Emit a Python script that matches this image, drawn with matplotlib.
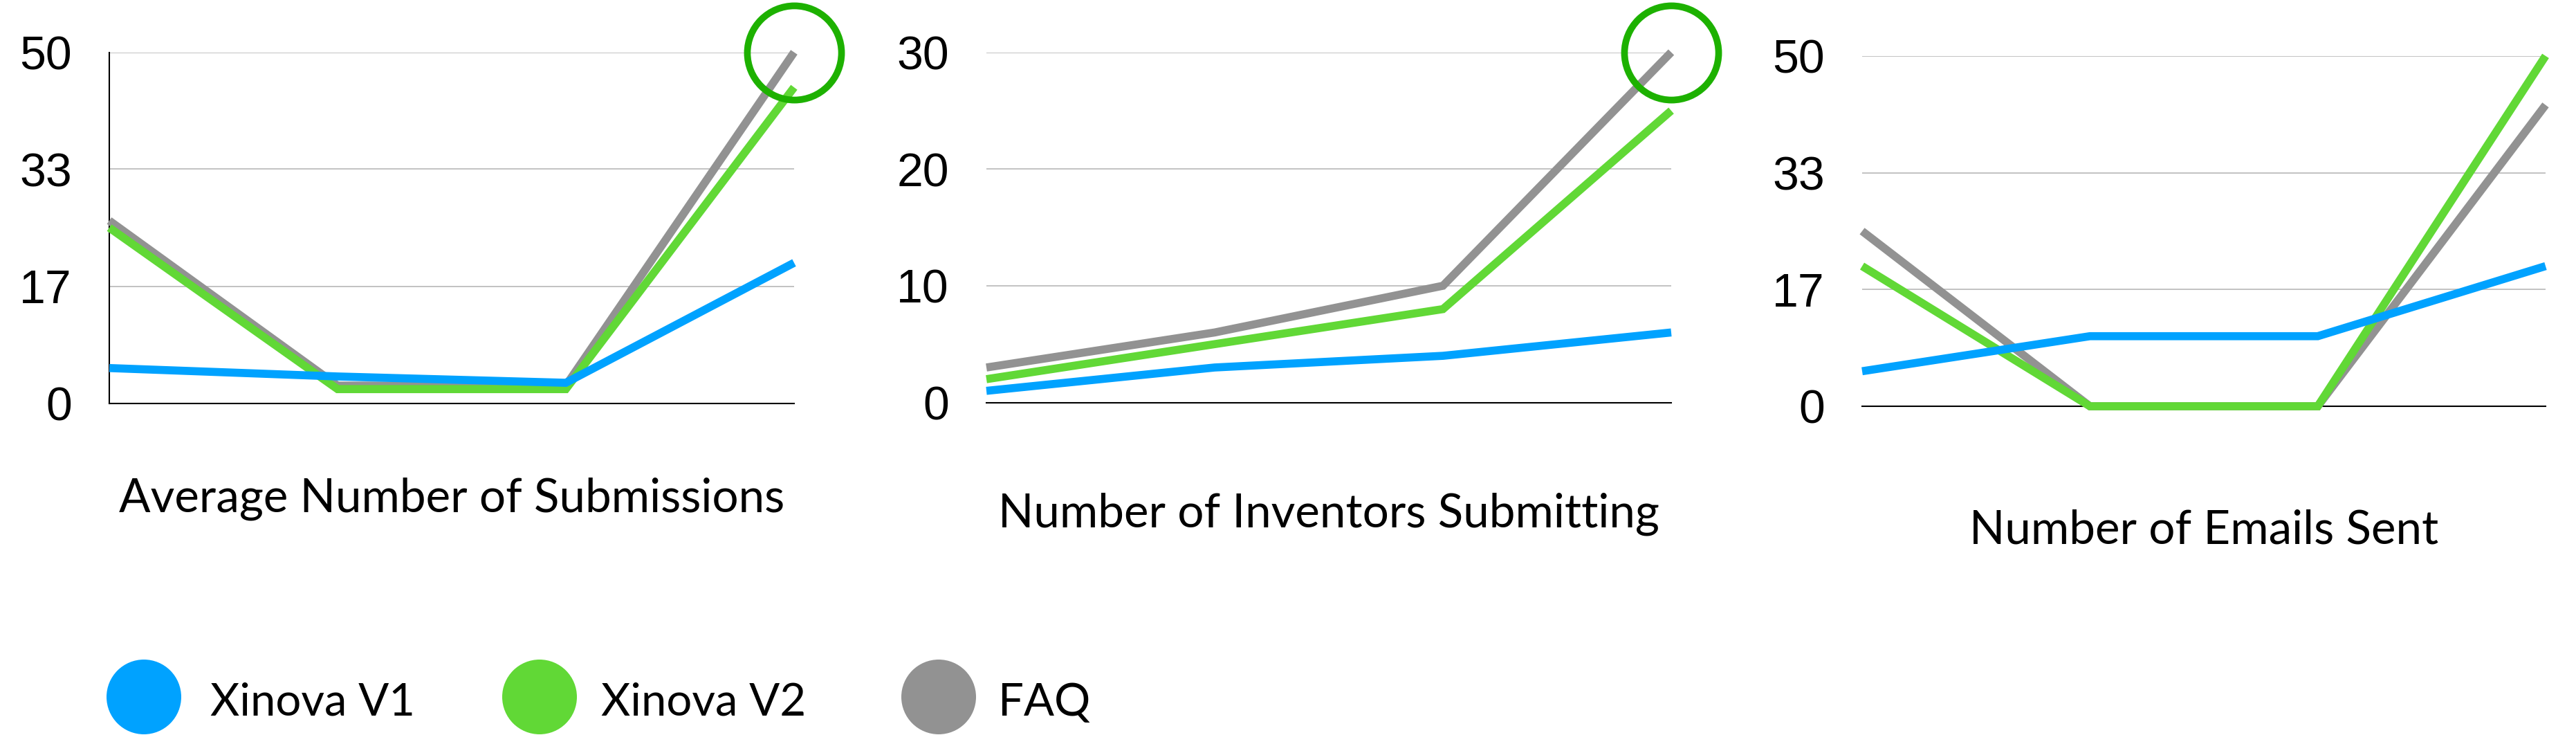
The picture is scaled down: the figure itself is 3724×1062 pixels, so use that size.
import matplotlib
matplotlib.use("Agg")
import matplotlib.pyplot as plt
from matplotlib.patches import Circle

# categories along x (unlabelled in the original)
steps = [0, 1, 2, 3]

series_names = ["Xinova V1", "Xinova V2", "FAQ"]
colors = ["#00A2FF", "#61D836", "#929292"]

# panel 1 - Average Number of Submissions
submissions_v1 = [5, 3.8, 2.9, 20]
submissions_v2 = [25, 2, 2, 45]
submissions_faq = [26, 2.5, 2.5, 50]

# panel 2 - Number of Inventors Submitting
inventors_v1 = [1, 3, 4, 6]
inventors_v2 = [2, 5, 8, 25]
inventors_faq = [3, 6, 10, 30]

# panel 3 - Number of Emails Sent
emails_v1 = [5, 10, 10, 20]
emails_v2 = [20, 0, 0, 50]
emails_faq = [25, 0, 0, 43]

titles = ["Average Number of Submissions", "Number of Inventors Submitting", "Number of Emails Sent"]
ytick_vals = [[0, 50 / 3, 100 / 3, 50], [0, 10, 20, 30], [0, 50 / 3, 100 / 3, 50]]
ytick_labels = [["0", "17", "33", "50"], ["0", "10", "20", "30"], ["0", "17", "33", "50"]]
ymax = [50, 30, 50]
highlight = [True, True, False]   # green circle around the FAQ peak

panels = [
    (submissions_v1, submissions_v2, submissions_faq),
    (inventors_v1, inventors_v2, inventors_faq),
    (emails_v1, emails_v2, emails_faq),
]

W, H = 3724, 1062
fig = plt.figure(figsize=(W / 100, H / 100), dpi=100)

# axes boxes in pixels: left, top, right, bottom
boxes = [(158, 75.5, 1148, 582.5), (1426, 75.5, 2416, 581.6), (2692, 80.8, 3680, 587)]
title_base = [740, 762, 785]

for i, (l, t, r, b) in enumerate(boxes):
    ax = fig.add_axes([l / W, 1 - b / H, (r - l) / W, (b - t) / H])
    v1, v2, faq = panels[i]
    ax.plot(steps, faq, color=colors[2], lw=8.4, solid_capstyle="butt", solid_joinstyle="miter", clip_on=False, zorder=3)
    ax.plot(steps, v2, color=colors[1], lw=8.4, solid_capstyle="butt", solid_joinstyle="miter", clip_on=False, zorder=4)
    ax.plot(steps, v1, color=colors[0], lw=8.4, solid_capstyle="butt", solid_joinstyle="miter", clip_on=False, zorder=5)
    if highlight[i]:
        ax.plot(steps[-1], faq[-1], marker="o", ms=98, mfc="none", mec="#1DB100", mew=7, clip_on=False, zorder=6)

    ax.set_xlim(steps[0], steps[-1])
    ax.set_ylim(0, ymax[i])
    ax.set_xticks([])
    ax.set_yticks(ytick_vals[i])
    ax.set_yticklabels(ytick_labels[i], fontfamily="Liberation Sans", fontsize=49)
    ax.tick_params(axis="y", length=0, pad=39)
    ax.grid(axis="y", color="#b8b8b8", lw=1.2)
    ax.set_axisbelow(True)
    for s in ["top", "right"]:
        ax.spines[s].set_visible(False)
    ax.spines["bottom"].set_color("black")
    ax.spines["bottom"].set_linewidth(1.5)
    ax.spines["bottom"].set_zorder(2)
    if i == 0:
        ax.spines["left"].set_color("black")
        ax.spines["left"].set_linewidth(1.5)
    else:
        ax.spines["left"].set_visible(False)

    ax.text(0.5, -(title_base[i] - b) / (b - t), titles[i], transform=ax.transAxes,
            ha="center", va="baseline", fontfamily="Lato", fontsize=48.5)

# legend drawn in pixel space
lg = fig.add_axes([0, 0, 1, 1], zorder=-1)
lg.set_xlim(0, W)
lg.set_ylim(H, 0)
lg.axis("off")
circle_x = [208, 780, 1357]
text_x = [304, 869, 1443]
for cx, tx, name, c in zip(circle_x, text_x, series_names, colors):
    lg.add_patch(Circle((cx, 1007), 54, color=c, lw=0))
    lg.text(tx, 1034, name, ha="left", va="baseline", fontfamily="Lato", fontsize=47)

fig.savefig("out.png", dpi=100)
